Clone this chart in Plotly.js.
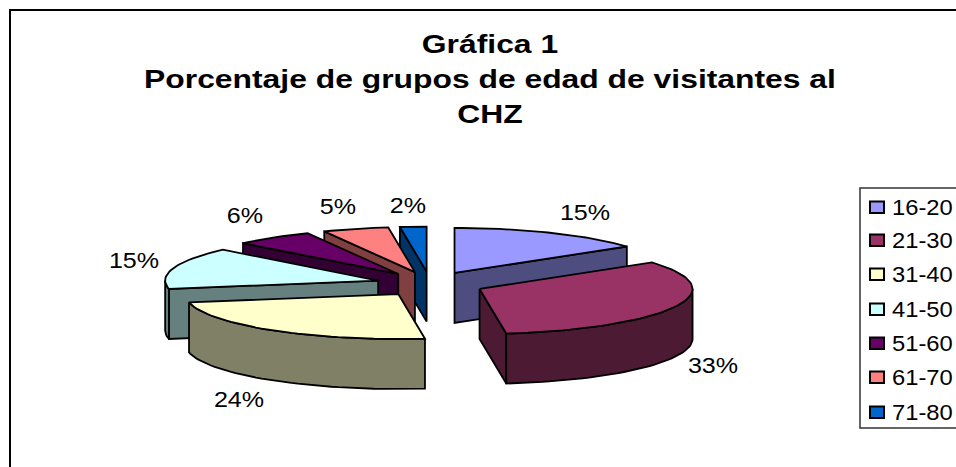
<!DOCTYPE html>
<html>
<head>
<meta charset="utf-8">
<script src="https://cdn.plot.ly/plotly-3.0.1.min.js"></script>
<style>html,body{margin:0;padding:0;background:#fff;overflow:hidden}#c{width:956px;height:467px}</style>
</head>
<body>
<div id="c"></div>
<script>
const categories = ['16-20','21-30','31-40','41-50','51-60','61-70','71-80'];
const percentages = [15,33,24,15,6,5,2];
const topColors = ['#9999FF','#993366','#FFFFCC','#CCFFFF','#660066','#FF8080','#0066CC'];
const sideColors = ['#4D4D80','#4D1A33','#808066','#668080','#330033','#804040','#003366'];
const titleLines = ['Gráfica 1','Porcentaje de grupos de edad de visitantes al','CHZ'];

// pie geometry (the axes below run in page pixels)
const CX=430, CY=284, RX=213, RY=45, DEPTH=50, EXPLODE=54, EXPLODE_Y=12.4;
// manual label spots, as Excel placed them
const labelSpots = [[585,212],[713,365],[239,399],[134,260],[245,215],[338,206],[408,205]];
const legendRows = [207,240,274,309,343,377,412];

const rad = d => d*Math.PI/180;
const total = percentages.reduce((a,b)=>a+b,0);
let cum = 0;
const slices = percentages.map((v,i)=>{
  const a0 = cum/total*360; cum += v; const a1 = cum/total*360;
  const m = rad((a0+a1)/2);
  return {i,a0,a1,ax:CX+EXPLODE*Math.sin(m),ay:CY-EXPLODE_Y*Math.cos(m)};
});
const rim = (s,a) => [s.ax+RX*Math.sin(rad(a)), s.ay-RY*Math.cos(rad(a))];
function arcPts(s,a0,a1){
  const n = Math.max(2,Math.ceil((a1-a0)/2)), p=[];
  for(let k=0;k<=n;k++) p.push(rim(s,a0+(a1-a0)*k/n));
  return p;
}
function poly(pts,fill,name){
  const x=pts.map(p=>p[0]), y=pts.map(p=>p[1]);
  x.push(x[0]); y.push(y[0]);
  return {type:'scatter',mode:'lines',x,y,fill:'toself',fillcolor:fill,
    line:{color:'#000',width:1.8,shape:'linear'},name,hoverinfo:'name',showlegend:false};
}
const traces=[];
// back-to-front painting order
[0,6,5,4,3,2,1].forEach(i=>{
  const s=slices[i], name=categories[i], side=sideColors[i];
  const radial=a=>{
    const r=rim(s,a);
    traces.push(poly([[s.ax,s.ay],r,[r[0],r[1]+DEPTH],[s.ax,s.ay+DEPTH]],side,name));
  };
  if(Math.sin(rad(s.a0))<-1e-6) radial(s.a0);
  if(Math.sin(rad(s.a1))>1e-6) radial(s.a1);
  const lo=Math.max(s.a0,90), hi=Math.min(s.a1,270);
  if(hi>lo){
    const top=arcPts(s,lo,hi);
    const bot=top.map(p=>[p[0],p[1]+DEPTH]).reverse();
    traces.push(poly(top.concat(bot),side,name));
  }
  traces.push(poly([[s.ax,s.ay]].concat(arcPts(s,s.a0,s.a1)),topColors[i],name));
});

const LBL='"Liberation Sans", Arial, sans-serif';
const annotations = percentages.map((v,i)=>({
  x:labelSpots[i][0],y:labelSpots[i][1],xref:'x',yref:'y',text:v+'%',showarrow:false,
  xanchor:'center',yanchor:'middle',font:{family:LBL,size:22,color:'#000'}
}));
const shapes=[
  {type:'path',path:'M10,467 L10,10 L956,10',xref:'x',yref:'y',line:{color:'#000',width:2}},
  {type:'rect',x0:860,x1:990,y0:188,y1:428,xref:'x',yref:'y',line:{color:'#333',width:1.5},fillcolor:'#fff',layer:'below'}
];
categories.forEach((c,i)=>{
  const y=legendRows[i];
  shapes.push({type:'rect',x0:870,x1:884,y0:y-5.5,y1:y+6,xref:'x',yref:'y',
    fillcolor:topColors[i],line:{color:'#000',width:2}});
  annotations.push({x:890,y:y,xref:'x',yref:'y',text:c,showarrow:false,xanchor:'left',yanchor:'middle',
    font:{family:LBL,size:22,color:'#000'}});
});

// the reference text is stretched horizontally, as in a resized picture
function stretch(el,sx,anchorLeft){
  const b=el.getBBox(), px=anchorLeft?b.x:b.x+b.width/2;
  el.setAttribute('transform','translate('+px+',0) scale('+sx+',1) translate('+(-px)+',0)');
}

Plotly.newPlot('c',traces,{
  width:956,height:467,margin:{l:0,r:0,t:0,b:0},
  paper_bgcolor:'#fff',plot_bgcolor:'#fff',showlegend:false,
  title:{text:titleLines.map(t=>'<span style="font-size:26px">'+t+'</span>').join('<br>'),
    x:490/956,xanchor:'center',xref:'paper',y:1-53/467,yref:'container',yanchor:'top',
    font:{family:LBL,size:27,color:'#000',weight:'bold'}},
  xaxis:{range:[0,956],visible:false,fixedrange:true},
  yaxis:{range:[467,0],visible:false,fixedrange:true},
  annotations,shapes
},{displayModeBar:false,staticPlot:true}).then(gd=>{
  const t=gd.querySelector('.gtitle');
  if(t) stretch(t,1.225,false);
  gd.querySelectorAll('.annotation-text').forEach((el,i)=>{
    const isLegend=i>=percentages.length;
    stretch(el,isLegend?1.08:1.14,isLegend);
  });
});
</script>
</body>
</html>
